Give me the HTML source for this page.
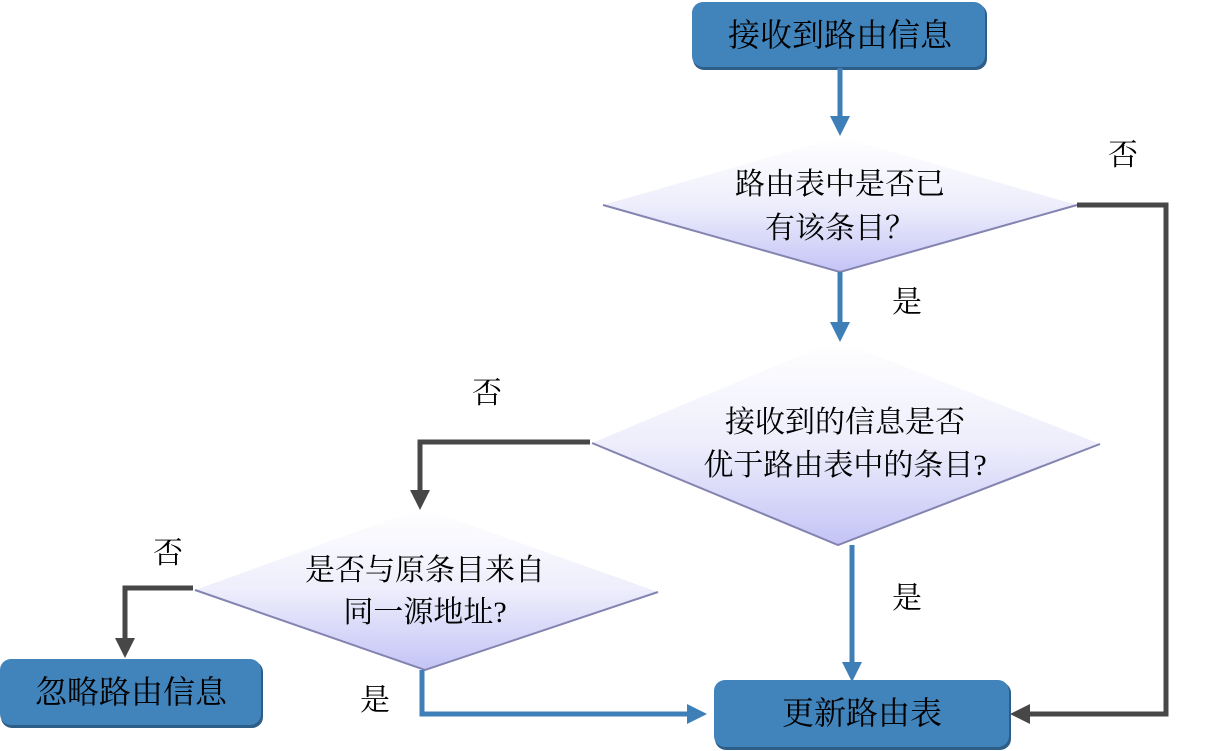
<!DOCTYPE html>
<html><head><meta charset="utf-8"><style>
html,body{margin:0;padding:0;background:#fff;}
svg{display:block;}
text{font-family:"Liberation Serif","Noto Serif CJK SC",serif;fill:#000;}
</style></head><body>
<svg width="1225" height="751" viewBox="0 0 1225 751" xmlns="http://www.w3.org/2000/svg">
<defs>
<linearGradient id="dg" x1="0" y1="0" x2="0" y2="1">
<stop offset="0" stop-color="#ffffff"/><stop offset="0.5" stop-color="#eeeefc"/><stop offset="1" stop-color="#c4c4f6"/>
</linearGradient>
<marker id="ab" markerWidth="4" markerHeight="4" refX="2" refY="2" orient="auto" markerUnits="strokeWidth"><path d="M0,0 L4,2 L0,4 Z" fill="#3f7fb8"/></marker>
<marker id="ag" markerWidth="4" markerHeight="4" refX="2" refY="2" orient="auto" markerUnits="strokeWidth"><path d="M0,0 L4,2 L0,4 Z" fill="#474747"/></marker>
</defs>

<!-- boxes -->
<rect x="693" y="4" width="294" height="66" rx="11" fill="#2d5e88"/>
<rect x="692" y="2" width="293" height="65" rx="11" fill="#4183bb"/>
<text x="840" y="46" font-size="32" text-anchor="middle">接收到路由信息</text>

<rect x="1" y="661" width="262" height="67" rx="11" fill="#2d5e88"/>
<rect x="0" y="659" width="261" height="66" rx="11" fill="#4183bb"/>
<text x="131" y="703" font-size="32" text-anchor="middle">忽略路由信息</text>

<rect x="715" y="682" width="296" height="68" rx="11" fill="#2d5e88"/>
<rect x="714" y="680" width="295" height="67" rx="11" fill="#4183bb"/>
<text x="862" y="724" font-size="32" text-anchor="middle">更新路由表</text>

<!-- diamonds -->
<polygon points="840,137 1077,205 840,272 603,205" fill="url(#dg)"/>
<polyline points="603,205 840,272 1077,205" fill="none" stroke="#8484b0" stroke-width="2"/>
<text x="840" y="194" font-size="30" text-anchor="middle">路由表中是否已</text>
<text x="840" y="238" font-size="30" text-anchor="middle">有该条目？</text>

<polygon points="837,340 1100,444 838,545 592,443" fill="url(#dg)"/>
<polyline points="592,443 838,545 1100,444" fill="none" stroke="#8484b0" stroke-width="2"/>
<text x="845" y="432" font-size="30" text-anchor="middle">接收到的信息是否</text>
<text x="845" y="475" font-size="30" text-anchor="middle">优于路由表中的条目?</text>

<polygon points="422,508 658,592 425,670 195,590" fill="url(#dg)"/>
<polyline points="195,590 425,670 658,592" fill="none" stroke="#8484b0" stroke-width="2"/>
<text x="425" y="580" font-size="30" text-anchor="middle">是否与原条目来自</text>
<text x="425" y="622" font-size="30" text-anchor="middle">同一源地址?</text>

<!-- blue connectors -->
<line x1="840" y1="68" x2="840" y2="126" stroke="#3f7fb8" stroke-width="5" marker-end="url(#ab)"/>
<line x1="840" y1="272" x2="840" y2="332" stroke="#3f7fb8" stroke-width="5" marker-end="url(#ab)"/>
<line x1="852" y1="545" x2="852" y2="672" stroke="#3f7fb8" stroke-width="5" marker-end="url(#ab)"/>
<polyline points="422,670 422,714 697,714" fill="none" stroke="#3f7fb8" stroke-width="5" marker-end="url(#ab)"/>

<!-- gray connectors -->
<polyline points="1077,205 1166,205 1166,714 1020,714" fill="none" stroke="#474747" stroke-width="5" marker-end="url(#ag)"/>
<polyline points="590,442 420,442 420,500" fill="none" stroke="#474747" stroke-width="5" marker-end="url(#ag)"/>
<polyline points="193,588 125,588 125,648" fill="none" stroke="#474747" stroke-width="5" marker-end="url(#ag)"/>

<!-- labels -->
<text x="1123" y="165" font-size="30" text-anchor="middle">否</text>
<text x="907" y="312" font-size="30" text-anchor="middle">是</text>
<text x="487" y="403" font-size="30" text-anchor="middle">否</text>
<text x="907" y="608" font-size="30" text-anchor="middle">是</text>
<text x="168" y="563" font-size="30" text-anchor="middle">否</text>
<text x="375" y="710" font-size="30" text-anchor="middle">是</text>
</svg>
</body></html>
